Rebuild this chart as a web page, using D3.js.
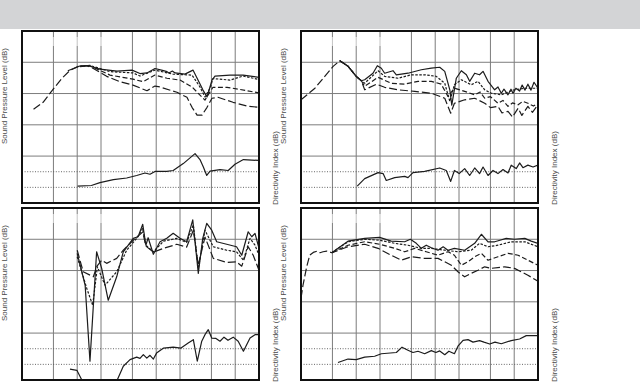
<!DOCTYPE html>
<html><head><meta charset="utf-8">
<script src="https://cdn.jsdelivr.net/npm/d3@7"></script>
<style>html,body{margin:0;padding:0;background:#fff;}svg{display:block}</style>
</head><body><svg id="c" width="640" height="384"></svg>
<script>
// ---- axis values ----
const freqGrid = [50,100,200,500,1000,2000,5000,10000];
const splGrid = [90,80,70,60];
const diDotted = [5,0];
const splLabel = "Sound Pressure Level (dB)";
const diLabel = "Directivity Index (dB)";

// ---- top-left panel: [Hz, dB] ----
const tlOnAxis = [[76,87.3],[108,88.8],[137,88.9],[194,87.8],[319,87.2],[494,87.5],[623,86.4],[764,86.6],[965,88.0],[1200,87.4],[1370,87.0],[1450,86.6],[1600,87.2],[1730,86.6],[2310,86.2],[2920,87.5],[3380,84.3],[3910,81.1],[4400,78.9],[5080,84.3],[5540,85.6],[8590,85.9],[12600,85.9],[20000,85.2]];
const tlShort = [[108,88.8],[145,89.0],[260,87.0],[508,86.6],[623,85.6],[965,87.5],[1630,86.2],[2840,85.9],[3580,82.1],[4140,78.9],[4800,81.7],[5230,84.8],[8590,84.3],[12600,85.6],[20000,84.5]];
const tlMedium = [[108,88.6],[145,88.9],[260,85.9],[508,84.6],[680,83.8],[965,85.9],[1370,84.9],[2000,84.3],[2840,82.1],[3580,79.5],[4140,77.9],[4520,79.5],[5230,82.0],[7870,82.0],[11500,81.3],[20000,80.2]];
const tlLong = [[28,75.0],[37,77.2],[50,81.5],[64,84.9],[81,87.4],[103,88.7],[132,88.9],[158,88.1],[236,85.5],[348,83.8],[508,82.7],[764,80.9],[965,82.4],[1117,82.1],[1830,80.4],[2450,78.8],[2840,75.6],[3290,73.1],[3800,73.1],[4400,75.6],[5080,78.5],[6050,78.8],[9380,77.2],[14100,76.0],[20000,75.6]];
const tlDI = [[101,0.4],[151,0.6],[194,1.5],[287,2.5],[423,3.0],[566,3.8],[721,4.6],[834,4.2],[965,5.1],[1360,5.1],[1640,5.4],[2200,7.6],[3100,10.8],[3580,8.9],[3950,6.5],[4360,3.8],[4800,5.2],[6420,5.7],[8150,5.4],[9930,7.4],[12700,8.9],[20000,8.6]];

// ---- top-right panel ----
const trOnAxis = [[62,90.5],[79,88.7],[100,85.5],[116,84.1],[128,84.4],[163,86.5],[185,88.9],[208,88.1],[229,86.5],[292,87.3],[322,86.0],[452,86.5],[667,87.6],[893,88.1],[1140,88.4],[1320,87.1],[1530,81.2],[1620,76.3],[1850,84.9],[2140,87.3],[2480,86.0],[2730,83.9],[3160,86.5],[3640,86.0],[4030,87.1],[4660,83.9],[5650,81.2],[6230,82.1],[6860,80.1],[7420,81.4],[8340,79.6],[9100,81.4],[9650,80.1],[10500,81.7],[11700,80.8],[12600,82.7],[13700,81.1],[14900,83.0],[16300,81.1],[17800,83.6],[20000,81.7]];
const trShort = [[62,90.5],[79,88.7],[100,85.5],[116,84.1],[128,83.3],[189,87.3],[229,85.5],[338,84.9],[500,86.0],[735,86.0],[1030,85.5],[1320,83.3],[1530,77.5],[1750,82.8],[2140,84.4],[2860,82.8],[3480,83.9],[4230,81.2],[5120,80.1],[6860,79.6],[9650,81.1],[13600,81.7],[20000,81.7]];
const trMedium = [[62,90.5],[79,88.7],[100,85.5],[116,84.1],[128,82.3],[189,85.2],[277,83.3],[411,83.0],[605,83.9],[893,83.9],[1190,83.0],[1450,79.1],[1750,81.7],[2360,80.7],[3160,79.6],[3700,80.5],[4230,78.5],[5000,79.0],[6230,76.9],[7200,77.8],[8340,75.9],[9500,77.0],[11200,76.4],[12800,77.5],[14900,76.9],[17500,76.0],[20000,76.9]];
const trLong = [[20,78.0],[30,81.7],[40,85.5],[51,88.7],[62,90.5],[79,88.7],[100,85.5],[116,84.1],[128,81.2],[180,83.0],[229,82.0],[338,81.2],[550,80.7],[893,80.1],[1320,78.5],[1570,73.7],[1750,76.9],[2360,78.0],[3160,78.5],[4230,76.9],[5000,75.5],[6230,75.9],[7000,73.8],[8340,74.3],[9500,72.5],[11200,75.3],[12500,73.0],[14900,75.9],[17000,74.0],[20000,76.4]];
const trDI = [[103,0.4],[128,2.8],[189,4.7],[219,4.4],[240,2.2],[307,3.1],[411,3.5],[452,3.1],[523,4.7],[735,5.1],[1140,6.2],[1380,5.4],[1570,1.9],[1750,5.4],[2010,4.4],[2360,6.0],[2730,3.8],[3160,6.2],[3640,4.4],[4030,6.5],[4660,3.8],[5390,5.4],[6230,4.4],[7210,5.7],[8340,4.6],[9160,7.1],[10600,6.0],[11700,7.8],[12900,6.3],[14900,7.1],[17300,6.5],[20000,7.1]];

// ---- bottom-left panel ----
const blOnAxis = [[100,85.5],[126,75.3],[145,51.0],[176,86.0],[204,80.7],[247,70.5],[316,78.0],[383,86.0],[512,90.3],[590,90.8],[675,94.8],[740,88.1],[790,90.5],[920,85.2],[1117,89.2],[1360,90.3],[1640,91.9],[2000,90.3],[2430,89.2],[2900,96.2],[3410,79.1],[3880,90.3],[4360,95.1],[5040,92.9],[5830,89.2],[7800,88.4],[10400,87.6],[12100,84.9],[14600,92.4],[16200,90.8],[17800,91.9],[20000,87.1]];
const blShort = [[100,84.4],[132,74.3],[157,68.9],[180,81.2],[225,75.3],[316,79.6],[423,86.5],[566,90.3],[675,93.5],[740,88.1],[920,86.0],[1240,89.4],[1820,90.3],[2430,89.0],[2950,94.6],[3410,80.7],[4140,92.9],[5280,87.6],[7800,86.5],[10400,86.0],[12700,83.3],[15400,90.3],[17800,88.1],[20000,84.9]];
const blLong = [[100,86.5],[119,79.6],[160,78.0],[178,81.4],[204,83.3],[236,82.3],[316,83.9],[383,86.5],[512,89.7],[675,92.3],[740,87.8],[920,85.9],[1240,87.1],[1820,88.4],[2430,87.5],[2950,92.9],[3410,81.7],[4140,90.7],[5280,83.9],[7800,82.6],[10400,82.8],[12100,81.4],[14600,87.6],[16900,84.9],[20000,80.1]];
const blDI = [[81,-1.5],[99,-1.9],[114,-4.9],[126,-8.3],[200,-10],[322,-4.9],[383,-0.6],[466,1.5],[566,2.3],[623,1.9],[687,3.1],[760,2.0],[834,2.9],[920,1.7],[1010,3.6],[1240,5.2],[1640,5.5],[2060,5.2],[2540,6.8],[2950,7.9],[3310,1.0],[3770,7.4],[4140,9.5],[4560,11.1],[5040,8.4],[5710,8.3],[6420,7.4],[7210,8.7],[8100,7.7],[9430,8.7],[10900,7.4],[12700,4.2],[15400,8.4],[17800,9.5],[20000,9.5]];

// ---- bottom-right panel ----
const brOnAxis = [[49,85.7],[78.7,89.4],[128,90.3],[198,90.6],[277,89.4],[411,89.2],[484,90.0],[576,88.7],[667,87.1],[770,88.1],[893,87.3],[1085,86.5],[1260,87.6],[1450,86.5],[1750,87.1],[2360,86.5],[3160,88.7],[3840,91.6],[4660,89.2],[5650,89.2],[6600,89.7],[7920,90.3],[10100,90.0],[13600,90.3],[16400,89.4],[20000,88.7]];
const brShort = [[49,85.7],[78.7,89.2],[128,90.0],[198,89.7],[307,88.7],[452,88.1],[667,87.1],[893,87.1],[1320,86.5],[1940,86.0],[2860,86.5],[3640,88.7],[4660,87.6],[6230,88.1],[9160,89.2],[13600,89.2],[20000,87.6]];
const brMedium = [[49,85.7],[78.7,88.1],[128,89.2],[198,88.4],[307,87.1],[411,86.0],[550,87.1],[770,86.0],[1085,84.9],[1450,86.0],[1750,84.9],[2140,81.7],[2600,82.8],[3160,84.4],[3840,85.5],[4660,83.3],[6230,84.4],[8340,85.5],[11200,84.9],[14900,83.3],[20000,81.7]];
const brLong = [[20,71.2],[21.2,75.3],[23.6,81.2],[25.8,84.9],[28.6,85.8],[31.9,86.2],[34.8,85.7],[38,86.0],[42.4,86.2],[49,85.7],[78.7,87.6],[128,88.4],[189,87.1],[277,84.9],[372,83.3],[500,84.4],[735,83.9],[1085,83.9],[1600,81.7],[1940,79.6],[2360,78.0],[2860,79.1],[3480,80.1],[4230,81.2],[5120,80.7],[7580,81.2],[10100,80.7],[14900,78.5],[20000,76.6]];
const brDI = [[58.8,0.6],[78.7,1.7],[100,1.5],[128,2.3],[171,2.6],[208,3.4],[322,3.8],[380,5.5],[452,4.5],[523,3.8],[605,4.2],[735,3.4],[893,4.4],[1020,3.8],[1140,4.3],[1320,3.1],[1490,4.2],[1750,3.4],[1940,5.8],[2250,7.7],[2600,7.9],[3010,7.1],[3640,7.6],[4140,7.1],[4900,6.5],[5710,7.1],[6860,6.6],[9160,7.6],[11700,8.1],[14200,9.2],[20000,9.2]];

// ---- drawing ----
const svg = d3.select('#c');
svg.append('rect').attr('x',0).attr('y',0).attr('width',640).attr('height',29).attr('fill','#d3d4d6');

const dashes = {solid:null, short:'2.5,1.5', medium:'5,2.5', long:'8,3'};
const PW = 237, PH = 172;
const panels = [
  {id:'tl', x:22,  y:31,  curves:[[tlLong,'long'],[tlMedium,'medium'],[tlShort,'short'],[tlOnAxis,'solid']], di:tlDI},
  {id:'tr', x:301, y:31,  curves:[[trLong,'long'],[trMedium,'medium'],[trShort,'short'],[trOnAxis,'solid']], di:trDI},
  {id:'bl', x:22,  y:208, curves:[[blLong,'long'],[blShort,'short'],[blOnAxis,'solid']], di:blDI},
  {id:'br', x:301, y:208, curves:[[brLong,'long'],[brMedium,'medium'],[brShort,'short'],[brOnAxis,'solid']], di:brDI}
];

const defs = svg.append('defs');
panels.forEach(p => {
  const x = d3.scaleLog().domain([20,20000]).range([p.x, p.x+PW]);
  const y = d3.scaleLinear().domain([45,100]).range([p.y+PH, p.y]);
  const yDI = d3.scaleLinear().domain([-5,50]).range([p.y+PH, p.y]);
  defs.append('clipPath').attr('id','clip-'+p.id).append('rect')
    .attr('x',p.x).attr('y',p.y).attr('width',PW).attr('height',PH);
  const g = svg.append('g');
  // vertical grid
  g.selectAll('.vg').data(freqGrid).join('line')
    .attr('x1',d=>x(d)).attr('x2',d=>x(d)).attr('y1',p.y).attr('y2',p.y+PH)
    .attr('stroke','#7c7c7c').attr('stroke-width',1);
  // horizontal grid
  g.selectAll('.hg').data(splGrid).join('line')
    .attr('x1',p.x).attr('x2',p.x+PW).attr('y1',d=>y(d)).attr('y2',d=>y(d))
    .attr('stroke','#7c7c7c').attr('stroke-width',1);
  // dotted DI reference lines
  g.selectAll('.dg').data(diDotted).join('line')
    .attr('x1',p.x).attr('x2',p.x+PW).attr('y1',d=>yDI(d)).attr('y2',d=>yDI(d))
    .attr('stroke','#555').attr('stroke-width',0.9).attr('stroke-dasharray','1,1.6');
  // faint erased area near top
  g.append('rect').attr('x',p.x+26).attr('y',p.y+6).attr('width',58).attr('height',9)
    .attr('fill','#fff').attr('opacity',0.55);
  const cg = g.append('g').attr('clip-path','url(#clip-'+p.id+')');
  const line = d3.line().x(d=>x(d[0])).y(d=>y(d[1]));
  p.curves.forEach(([data,style]) => {
    cg.append('path').attr('d',line(data)).attr('fill','none')
      .attr('stroke','#1c1c1c').attr('stroke-width',1.2)
      .attr('stroke-linejoin','round')
      .attr('stroke-dasharray',dashes[style]);
  });
  const diLine = d3.line().x(d=>x(d[0])).y(d=>yDI(d[1]));
  cg.append('path').attr('d',diLine(p.di)).attr('fill','none')
    .attr('stroke','#1c1c1c').attr('stroke-width',1.2).attr('stroke-linejoin','round');
  // frame
  g.append('rect').attr('x',p.x).attr('y',p.y).attr('width',PW).attr('height',PH)
    .attr('fill','none').attr('stroke','#111').attr('stroke-width',2);
  // labels
  const splX = p.x - 15, diX = p.x + PW + 18.5;
  g.append('text').attr('transform',`translate(${splX},${p.y+65}) rotate(-90)`)
    .attr('text-anchor','middle').attr('font-family','Liberation Sans, Arial, sans-serif')
    .attr('font-size',8).attr('fill','#4a4a4a').text(splLabel);
  g.append('text').attr('transform',`translate(${diX},${p.y+137}) rotate(-90)`)
    .attr('text-anchor','middle').attr('font-family','Liberation Sans, Arial, sans-serif')
    .attr('font-size',8).attr('fill','#4a4a4a').text(diLabel);
});
</script></body></html>
